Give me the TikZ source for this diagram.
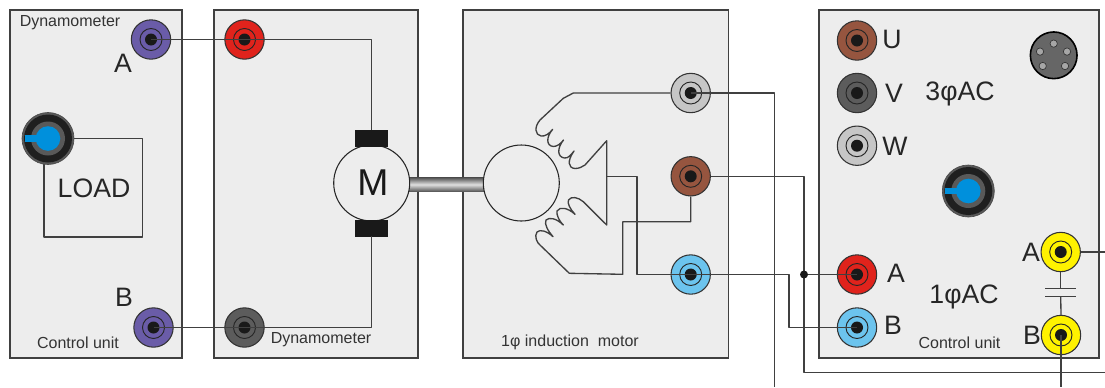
\documentclass[tikz,border=0pt]{standalone}
\usepackage{fontspec}
\setmainfont{Liberation Sans}
\usepackage{xcolor}
\usetikzlibrary{calc, positioning}

\definecolor{panelgray}{HTML}{EDEDED}
\definecolor{linegray}{HTML}{404040}
\definecolor{jackpurple}{HTML}{6A5CA8}
\definecolor{jackred}{HTML}{E0231C}
\definecolor{jackdark}{HTML}{5C5C5C}
\definecolor{jacklight}{HTML}{C6C6C6}
\definecolor{jackbrown}{HTML}{96553F}
\definecolor{jackblue}{HTML}{6CC4EE}
\definecolor{jackyellow}{HTML}{FFF200}
\definecolor{knobblue}{HTML}{0090DC}

\tikzset{
    panel/.style={draw=linegray, fill=panelgray, line width=1.1pt},
    wire/.style={draw=linegray, line width=1pt, line join=round},
    jack/.style={circle, draw=black!80, fill=#1, line width=0.8pt, minimum size=29.5pt, inner sep=0pt,
        path picture={
            \draw[black!85, line width=0.7pt] (path picture bounding box.center) circle (11);
            \fill[black!90] (path picture bounding box.center) circle (6);
        }},
    knob/.style={circle, draw=black!70, fill=black!65, line width=0.5pt, minimum size=39pt, inner sep=0pt,
        path picture={
            \fill[black!88] (path picture bounding box.center) circle (24);
            \fill[black!65] (path picture bounding box.center) circle (17);
            \fill[knobblue] (path picture bounding box.center) circle (12.3);
            \fill[knobblue] ($(path picture bounding box.center)+(-23,-3.3)$) rectangle ($(path picture bounding box.center)+(0,3.3)$);
        }},
    brush/.style={draw=black!90, fill=black!90, minimum width=24pt, minimum height=12pt, inner sep=0pt},
    rotor/.style={circle, draw=black!85, fill=panelgray, line width=0.8pt, minimum size=57pt, inner sep=0pt},
    small/.style={font=\fontsize{12}{14}\selectfont, text=black!80},
    big/.style={font=\fontsize{20}{22}\selectfont, text=black!85},
    pin/.style={circle, draw=black!80, fill=black!35, line width=0.5pt, minimum size=5.5pt, inner sep=0pt},
}

\begin{document}
\begin{tikzpicture}[x=0.75pt, y=-0.75pt]
    \useasboundingbox (0,0) rectangle (1105,387);

    \draw[panel] (10,10) rectangle (182,358);
    \draw[panel] (214,10) rectangle (418,358);
    \draw[panel] (463,10) rectangle (728.5,358);
    \draw[panel] (819,10) rectangle (1099,358);

    \node[small] (dynoTop) at (70,23) {Dynamometer};
    \node[small] (ctrlLeft) at (78,343) {Control unit};
    \node[small] (dynoLow) at (321,340) {Dynamometer};
    \node[small] (motorName) at (570,342) {1φ induction~ motor};
    \node[small] (ctrlRight) at (959.5,343) {Control unit};

    \node[big] (lblLeftA) at (123,63) {A};
    \node[big] (lblLeftB) at (124,297) {B};
    \node[big] (lblU) at (892,39.5) {U};
    \node[big] (lblV) at (894,93) {V};
    \node[big] (lblW) at (895,146) {W};
    \node[big] (lblA) at (896,273) {A};
    \node[big] (lblB) at (893,325) {B};
    \node[big] (lblCapA) at (1031,252) {A};
    \node[big] (lblCapB) at (1032,335) {B};
    \node[big] (lbl3ac) at (960,94) {3φAC};
    \node[big] (lbl1ac) at (964,297) {1φAC};
    \node[big] (lblLoad) at (94,188) {LOAD};

    \node[jack=jackpurple] (ctrlA) at (151,39.5) {};
    \node[jack=jackpurple] (ctrlB) at (153.5,327.5) {};
    \node[jack=jackred] (dynoA) at (244.5,39.5) {};
    \node[jack=jackdark] (dynoB) at (244.5,327.5) {};
    \node[jack=jacklight] (motorU) at (690.7,93) {};
    \node[jack=jackbrown] (motorV) at (690.7,176.3) {};
    \node[jack=jackblue] (motorW) at (690.7,274.5) {};
    \node[jack=jackbrown] (acU) at (857,40.5) {};
    \node[jack=jackdark] (acV) at (857,93) {};
    \node[jack=jacklight] (acW) at (857,145.7) {};
    \node[jack=jackred] (acA) at (857,274.5) {};
    \node[jack=jackblue] (acB) at (857,327.5) {};
    \node[jack=jackyellow] (capA) at (1060.7,252) {};
    \node[jack=jackyellow] (capB) at (1061,335) {};

    \coordinate (loadBR) at (142.3,237);
    \coordinate (loadBL) at (44,237);
    \draw[wire] (48,138.5) -| (loadBR) -- (loadBL) -- (44,138.5);
    \node[knob] (loadKnob) at (48,138.5) {};
    \node[knob] (acKnob) at (968.3,191) {};

    \node[circle, draw=black, fill=black!60, line width=1.2pt, minimum size=35pt, inner sep=0pt] (din) at (1053.7,55.3) {};
    \node[pin] (pinA) at ($(din)+(0,-11.7)$) {};
    \node[pin] (pinB) at ($(din)+(-13.7,-3.7)$) {};
    \node[pin] (pinC) at ($(din)+(13.3,-3.7)$) {};
    \node[pin] (pinD) at ($(din)+(-11,10.7)$) {};
    \node[pin] (pinE) at ($(din)+(11.3,10.7)$) {};

    \node[rectangle, minimum width=57pt, minimum height=11pt, inner sep=0pt, top color=black!70, bottom color=black!70, middle color=black!12] (shaft) at (446,184.5) {};
    \node[rotor] (dcMotor) at (371.7,183) {};
    \node[font=\fontsize{28}{30}\selectfont, text=black!90] (lblM) at (373,183) {M};
    \node[rotor] (acRotor) at (521.3,183) {};
    \node[brush] (brushTop) at (371.7,138) {};
    \node[brush] (brushLow) at (371.7,228) {};

    \draw[wire] (ctrlA.center) -- (dynoA.center) -| (brushTop.north);
    \draw[wire] (ctrlB.center) -- (dynoB.center) -| (brushLow.south);

    \coordinate (apexTop) at (606.7,140.7);
    \coordinate (apexLow) at (606.7,225);
    \coordinate (apexMid) at (606.7,176.3);

    \draw[wire] (motorU.west) -- (573.3,93) -- (563.3,98.3) -- (540,120)
        .. controls (534,127) and (535,135) .. (541,136)
        .. controls (545,136.5) and (549,134) .. (552.7,129.3)
        .. controls (546,137) and (546,146) .. (553.5,146.5)
        .. controls (557,146.5) and (561,143.5) .. (563.5,140)
        .. controls (557,148) and (557,157) .. (564.5,158)
        .. controls (568,158.5) and (571,155) .. (574,151)
        .. controls (567,161) and (568,168) .. (575,168.5)
        .. controls (579,168.5) and (582,167) .. (585,165)
        -- (apexTop) -- (apexLow) -- (583.3,201.7)
        .. controls (578,197) and (571,196) .. (568.5,200)
        .. controls (567,203) and (570,209) .. (575,214.3)
        .. controls (568,208) and (560,206) .. (557,211)
        .. controls (556,215) and (560,222) .. (563.3,225)
        .. controls (556,218) and (549,217) .. (546,220)
        .. controls (544,224) and (548,231) .. (553,236.7)
        .. controls (547,231) and (540,229) .. (537,232)
        .. controls (534,236) and (537,243) .. (540,245)
        -- (569.3,273.3) -- (622.7,274.3) -- (622.7,221.7) -| (motorV.south);
    \draw[wire] (apexMid) -- (637,176.3) |- (motorW.center);

    \coordinate (busNode) at (804,274.5);
    \coordinate (uEnd) at (774.5,387);
    \coordinate (vLow) at (804,372.7);
    \coordinate (vEnd) at (1105,372.7);
    \coordinate (capRight) at (1105,252);
    \coordinate (capDown) at (1061,387);

    \draw[wire] (motorU.center) -| (uEnd);
    \draw[wire] (motorV.east) -| (vLow) -- (vEnd);
    \draw[wire] (motorW.center) -- (789,274.5) |- (acB.center);
    \draw[wire] (busNode) -- (acA.center);
    \fill[black!90] (busNode) circle (4);
    \draw[wire] (capA.east) -- (capRight);
    \draw[wire] (capB.center) -- (capDown);

    \coordinate (plateTop) at (1060.7,288.7);
    \coordinate (plateLow) at (1060.7,296.7);
    \draw[wire] (capA.south) -- (plateTop);
    \draw[wire] (plateLow) -- (capB.north);
    \draw[wire] ($(plateTop)+(-15.5,0)$) -- ($(plateTop)+(15.5,0)$);
    \draw[wire] ($(plateLow)+(-15.5,0)$) -- ($(plateLow)+(15.5,0)$);
\end{tikzpicture}
\end{document}
